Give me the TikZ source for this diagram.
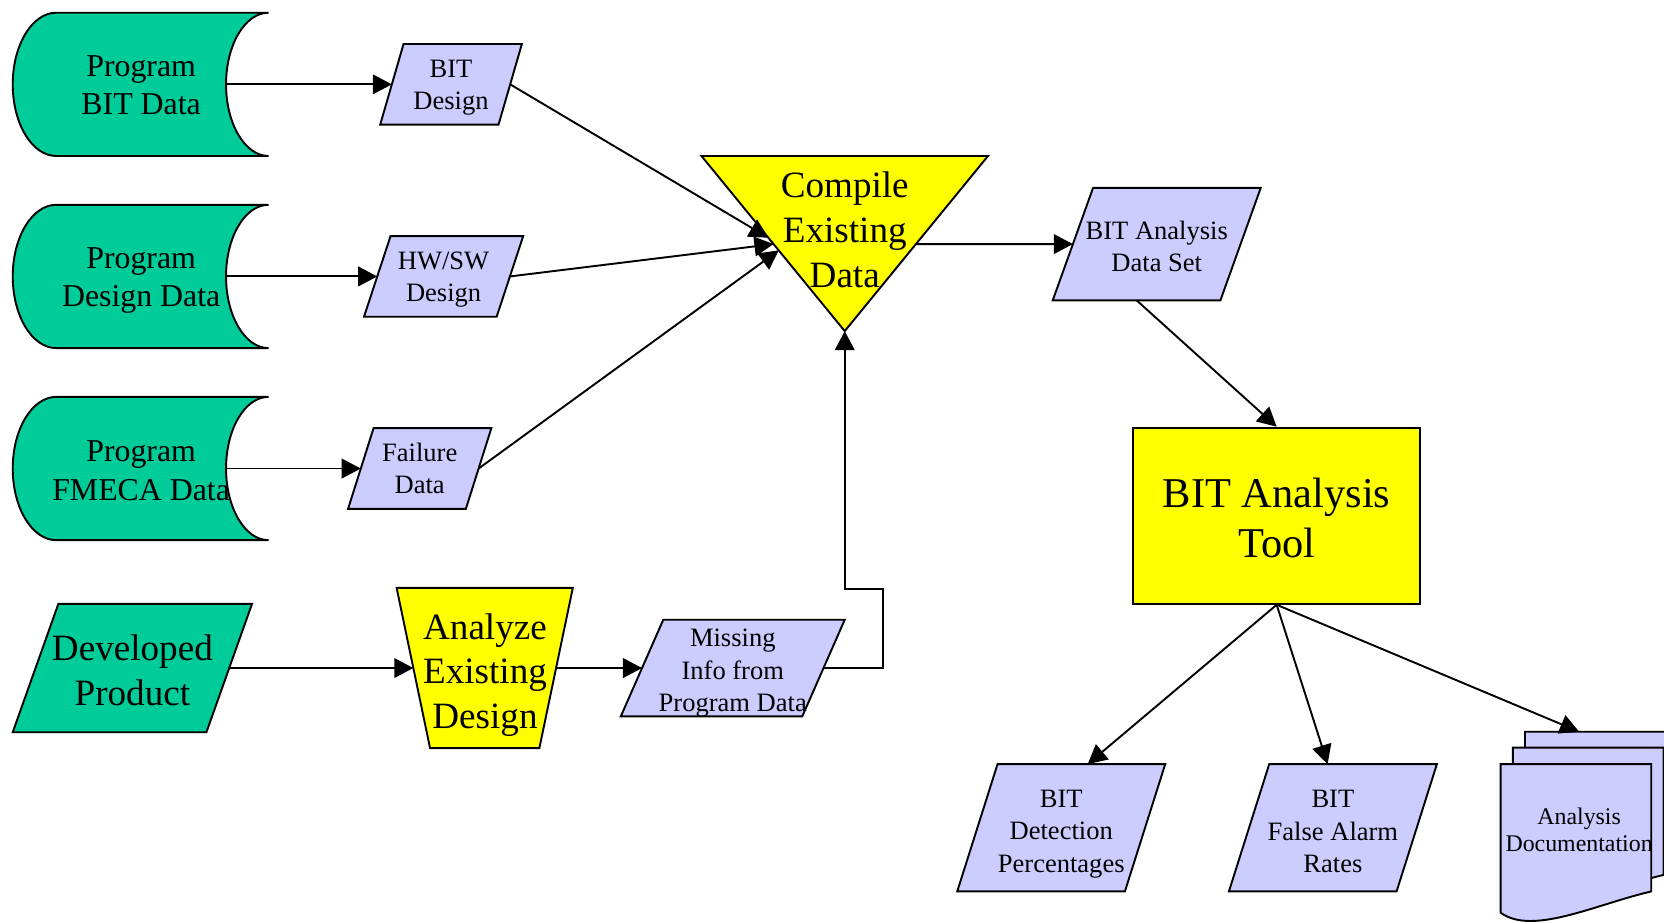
\documentclass[tikz,border=0pt]{standalone}
\usepackage{fontspec}
\setmainfont{Liberation Serif}
\usetikzlibrary{arrows.meta,calc}

\definecolor{storegreen}{RGB}{0,204,153}
\definecolor{lavender}{RGB}{204,204,255}
\definecolor{procyellow}{RGB}{255,255,0}

% text sizes
\newcommand\DataTxt{\fontsize{30}{36}\selectfont}
\newcommand\SmallTxt{\fontsize{25}{30.5}\selectfont}
\newcommand\BigTxt{\fontsize{35}{42}\selectfont}
\newcommand\HugeTxt{\fontsize{40}{47}\selectfont}
\newcommand\DocTxt{\fontsize{22.5}{26}\selectfont}

\tikzset{
  outline/.style={draw=black, line width=1.8pt, line join=miter},
  flow/.style={line width=1.8pt, -{Triangle[length=18pt,width=18.5pt]}},
  label/.style={inner sep=0pt, align=center},
  frame/.style={inner sep=0pt, outer sep=0pt},
}

% parallelogram: name, centre, mid width, height, slant, fill, font, text, text shift
\newcommand\ParaNode[9]{%
  \node[frame, minimum width=#3pt, minimum height=#4pt] (#1) at (#2) {};
  \filldraw[outline, fill=#6]
    ([xshift=#5pt*0.5]#1.north west) -- ([xshift=#5pt*0.5]#1.north east)
    -- ([xshift=-#5pt*0.5]#1.south east) -- ([xshift=-#5pt*0.5]#1.south west) -- cycle;
  \node[label, font=#7] (#1-text) at ([yshift=#9pt]#1.center) {#8};}

% stored data: name, centre, text, text shift
\newcommand\StoredNode[4]{%
  \node[frame, minimum width=160pt, minimum height=135pt] (#1) at (#2) {};
  \filldraw[outline, fill=storegreen]
    ([xshift=40pt]#1.north east) -- (#1.north west)
    arc[start angle=90, end angle=270, x radius=41pt, y radius=67.5pt]
    -- ([xshift=40pt]#1.south east)
    arc[start angle=270, end angle=90, x radius=40pt, y radius=67.5pt] -- cycle;
  \node[label, font=\DataTxt] (#1-text) at ([yshift=#4pt]#1.center) {#3};}

% one sheet of the document stack, top-left corner given
\newcommand\DocSheet[1]{%
  \filldraw[outline, fill=lavender, shift={(#1)}]
    (0,0) -- (142,0) -- (142,-120)
    .. controls (90,-132) and (30,-162) .. (0,-140) -- cycle;}

\begin{document}
\begin{tikzpicture}[x=1pt, y=1pt]
\useasboundingbox (0,0) rectangle (1568,870);
\clip (0,0) rectangle (1568,870);

% program data stores
\StoredNode{pbit}{133,790.5}{Program\\BIT Data}{-1}
\StoredNode{pdes}{133,609.5}{Program\\Design Data}{-4}
\StoredNode{pfme}{133,428.5}{Program\\FMECA Data}{-2}

% intermediate data
\ParaNode{bitd}{425,790.5}{111.5}{76}{22}{lavender}{\SmallTxt}{BIT\\Design}{-3}
\ParaNode{hwsw}{418,609.5}{125}{76}{25}{lavender}{\SmallTxt}{HW/SW\\Design}{-3}
\ParaNode{fail}{395.5,428.5}{111}{76}{24}{lavender}{\SmallTxt}{Failure\\Data}{0}

% developed product and design analysis
\ParaNode{dev}{124.75,240.5}{182.5}{121}{43}{storegreen}{\BigTxt}{Developed\\Product}{-2}
\node[frame, minimum width=134.5pt, minimum height=151pt] (ana) at (456.75,240.5) {};
\filldraw[outline, fill=procyellow]
  ([xshift=-15.75pt]ana.north west) -- ([xshift=15.75pt]ana.north east)
  -- ([xshift=-15.75pt]ana.south east) -- ([xshift=15.75pt]ana.south west) -- cycle;
\node[label, font=\BigTxt] (ana-text) at (457,234) {Analyze\\Existing\\Design};
\ParaNode{miss}{690.5,240.5}{171}{91}{40}{lavender}{\SmallTxt}{Missing\\Info from\\Program Data}{-5}

% compile step (inverted triangle)
\coordinate (ctl) at (661,723);
\coordinate (ctr) at (931,723);
\coordinate (capex) at (796,558);
\filldraw[outline, fill=procyellow] (ctl) -- (ctr) -- (capex) -- cycle;
\node[label, font=\BigTxt] (compile) at (796,653.5) {Compile\\Existing\\Data};
\coordinate (cin1) at ($(ctl)!0.467!(capex)$);
\coordinate (cin2) at ($(ctl)!0.503!(capex)$);
\coordinate (cin3) at ($(ctl)!0.539!(capex)$);
\coordinate (cout) at ($(ctr)!0.503!(capex)$);
\coordinate (bend) at (832,315);

\ParaNode{set}{1090,640}{158}{106}{38}{lavender}{\SmallTxt}{BIT Analysis\\Data Set}{-2}

% analysis tool
\node[outline, fill=procyellow, minimum width=270pt, minimum height=166pt,
      inner sep=0pt] (tool) at (1203,384) {};
\node[label, font=\HugeTxt] (tool-text) at ([yshift=-2pt]tool.center) {BIT Analysis\\Tool};

% results
\ParaNode{det}{1000,90}{158}{120}{38}{lavender}{\SmallTxt}{BIT\\Detection\\Percentages}{-6}
\ParaNode{fa}{1256,90}{158}{120}{38}{lavender}{\SmallTxt}{BIT\\False Alarm\\Rates}{-3.5}

\node[frame, minimum width=142pt, minimum height=100pt, anchor=north west] (docback) at (1437,180.5) {};
\DocSheet{1437,180.5}
\DocSheet{1425.5,165.5}
\DocSheet{1414,150}
\node[label, font=\DocTxt] (doc) at (1488,88) {Analysis\\Documentation};

% connectors
\draw[flow] (pbit.east) -- (bitd.west);
\draw[flow] (pdes.east) -- (hwsw.west);
\draw[flow] (pfme.east) -- (fail.west);
\draw[flow] (bitd.east) -- (cin1);
\draw[flow] (hwsw.east) -- (cin2);
\draw[flow] (fail.east) -- (cin3);
\draw[flow] (cout) -- (set.west);
\draw[flow] (dev.east) -- (ana.west);
\draw[flow] (ana.east) -- (miss.west);
\draw[flow] (miss.east) -| (bend) -| (capex);
\draw[flow] ([xshift=-19pt]set.south) -- (tool.north);
\draw[flow] (tool.south) -- ([xshift=25pt]det.north);
\draw[flow] (tool.south) -- ([xshift=-5pt]fa.north);
\draw[flow] (tool.south) -- ([xshift=-20pt]docback.north);
\end{tikzpicture}
\end{document}
